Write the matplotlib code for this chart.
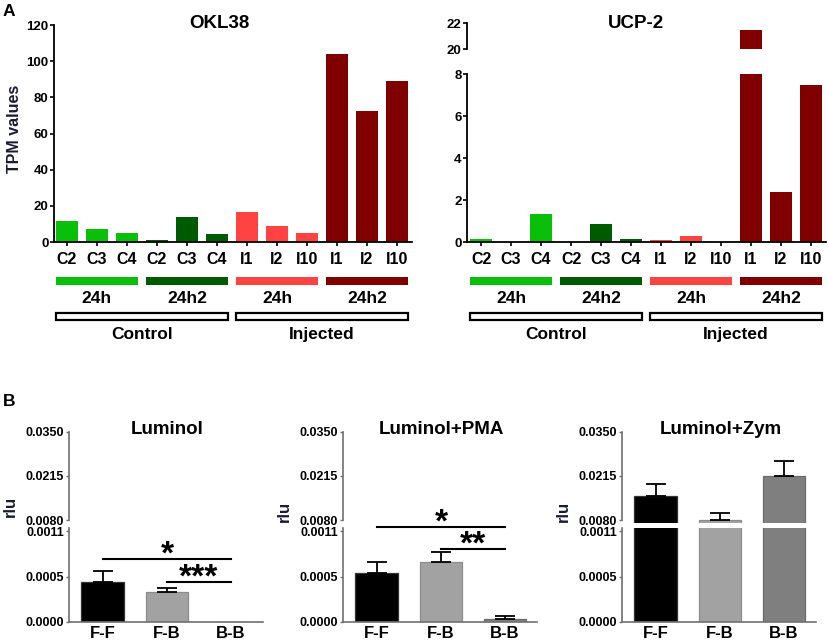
import numpy as np
import matplotlib
matplotlib.use('Agg')
import matplotlib.pyplot as plt
from matplotlib.patches import Rectangle

plt.rcParams['font.family'] = ['Liberation Sans', 'DejaVu Sans']
plt.rcParams['font.weight'] = 'bold'

# ---------- Panel A: TPM values ----------
samples = ['C2', 'C3', 'C4', 'C2', 'C3', 'C4', 'I1', 'I2', 'I10', 'I1', 'I2', 'I10']
okl38 = [11.8, 7.0, 5.0, 1.1, 14.0, 4.5, 16.6, 8.6, 4.9, 103.8, 72.4, 89.0]
ucp2 = [0.12, 0.0, 1.32, 0.0, 0.87, 0.12, 0.1, 0.28, 0.0, 21.45, 2.4, 7.48]
time_groups = ['24h', '24h2', '24h', '24h2']
group_colors = ['#0abf0a', '#005a00', '#ff4242', '#800000']
group_size = 3
conditions = ['Control', 'Injected']

# ---------- Panel B: rlu ----------
pairs = ['F-F', 'F-B', 'B-B']
pair_colors = ['#000000', '#a2a2a2', '#7f7f7f']
pair_edges = ['#333333', '#8c8c8c', '#6a6a6a']
luminol = [0.000484, 0.000359, 0.0]
luminol_err = [0.000128, 0.000048, 0.0]
pma = [0.000595, 0.000721, 0.000037]
pma_err = [0.000134, 0.000126, 0.000037]
zym = [0.01536, 0.0081, 0.0214]
zym_err = [0.00382, 0.00232, 0.00453]
upper_ticks = [0.008, 0.0215, 0.035]
upper_labels = ['0.0080', '0.0215', '0.0350']
lower_ticks = [0, 0.00055, 0.0011]
lower_labels = ['0.0000', '0.0005', '0.0011']

W, H = 829, 641
fig = plt.figure(figsize=(W / 100, H / 100), dpi=100)


def add_ax(left, top, right, bottom):
    # axes placed in pixel units of the 829x641 canvas
    return fig.add_axes([left / W, 1 - bottom / H, (right - left) / W, (bottom - top) / H])


def ftext(x, y, s, **kw):
    return fig.text(x / W, 1 - y / H, s, ha='center', va='center', **kw)


x = np.arange(len(samples))
bar_colors = np.repeat(group_colors, group_size)


def style_a(ax, xlim):
    ax.set_xlim(xlim)
    ax.spines['top'].set_visible(False)
    ax.spines['right'].set_visible(False)
    ax.spines['left'].set_linewidth(1.3)
    ax.spines['bottom'].set_linewidth(1.3)
    ax.tick_params(axis='y', length=3, width=1.2, pad=1, labelsize=9.5)
    ax.tick_params(axis='x', length=3, width=1.2, pad=4, labelsize=11.5)


def group_annot(ax, xlim):
    ax.set_xlim(xlim)
    ax.set_ylim(1, 0)
    ax.axis('off')
    for g in range(len(time_groups)):
        x0 = g * group_size - 0.37
        x1 = (g + 1) * group_size - 1 + 0.37
        ax.add_patch(Rectangle((x0, 0.32), x1 - x0, 0.08, color=group_colors[g], lw=0))
        ax.text((x0 + x1) / 2, 0.535, time_groups[g], ha='center', va='center', fontsize=12.5)
    per = group_size * 2
    for c in range(len(conditions)):
        x0 = c * per - 0.37
        x1 = (c + 1) * per - 1 + 0.37
        ax.add_patch(Rectangle((x0, 0.68), x1 - x0, 0.07, facecolor='white',
                               edgecolor='black', lw=1.6))
        ax.text((x0 + x1) / 2, 0.895, conditions[c], ha='center', va='center', fontsize=12.5)


# OKL38
xlim_l = (-0.43, 11.5)
ax1 = add_ax(54, 25, 412, 242)
ax1.bar(x, okl38, width=0.73, color=bar_colors, lw=0)
ax1.set_ylim(0, 120)
ax1.set_yticks([0, 20, 40, 60, 80, 100, 120])
ax1.set_xticks(x, samples)
style_a(ax1, xlim_l)
group_annot(add_ax(54, 245, 412, 345), xlim_l)
ftext(219, 24, 'OKL38', fontsize=13.5)
ftext(15, 129, 'TPM values', fontsize=11.5, rotation=90, color='#1a1a33')

# UCP-2 with broken axis
xlim_r = (-0.47, 11.5)
ax2 = add_ax(467, 74, 826, 242)
ax2.bar(x, ucp2, width=0.73, color=bar_colors, lw=0)
ax2.set_ylim(0, 8)
ax2.set_yticks([0, 2, 4, 6, 8])
ax2.set_xticks(x, samples)
style_a(ax2, xlim_r)
ax2u = add_ax(467, 23, 826, 49)
ax2u.bar(x, ucp2, width=0.73, color=bar_colors, lw=0)
ax2u.set_ylim(20, 22)
ax2u.set_yticks([20, 22])
style_a(ax2u, xlim_r)
ax2u.spines['bottom'].set_visible(False)
ax2u.set_xticks([])
group_annot(add_ax(467, 245, 826, 345), xlim_r)
ftext(636, 24, 'UCP-2', fontsize=13.5)

ftext(9, 11, 'A', fontsize=12.5)
ftext(9, 401, 'B', fontsize=12.5)

# ---------- Panel B ----------
xb = np.arange(len(pairs))
spine_c = '#707070'


def panel_b(left, means, errs, title, sigs, ylab_xy):
    right = left + 194
    up = add_ax(left, 431.5, right, 522.8)
    lo = add_ax(left, 527.7, right, 622)
    for ax in (up, lo):
        ax.bar(xb, means, width=0.67, color=pair_colors, edgecolor=pair_edges, lw=0.9)
        for i in range(len(means)):
            if errs[i] > 0:
                ax.errorbar(xb[i], means[i], yerr=[[0], [errs[i]]], fmt='none',
                            ecolor='black', elinewidth=1.3, capsize=7.5, capthick=1.3)
        ax.set_xlim(-0.53, 2.5)
        ax.spines['top'].set_visible(False)
        ax.spines['right'].set_visible(False)
        for s in ('left', 'bottom'):
            ax.spines[s].set_color(spine_c)
            ax.spines[s].set_linewidth(1.2)
        ax.tick_params(axis='y', length=2.5, width=1.0, color=spine_c, pad=1, labelsize=9)
    up.set_ylim(0.0073, 0.035)
    up.spines['left'].set_bounds(0.008, 0.035)
    up.spines['bottom'].set_visible(False)
    up.set_xticks([])
    up.set_yticks(upper_ticks, upper_labels)
    lo.set_ylim(0, 0.00114)
    lo.set_yticks(lower_ticks, lower_labels)
    lo.set_xticks(xb, pairs)
    lo.tick_params(axis='x', length=0, pad=3, labelsize=12)
    for i, j, y, s in sigs:
        lo.plot([i, j], [y, y], color='black', lw=1.5, clip_on=False)
        lo.annotate(s, xy=((i + j) / 2, y), xytext=(0, -3.5), textcoords='offset points',
                    ha='center', va='baseline', fontsize=24, annotation_clip=False)
    ftext((left + right) / 2 + 1.5, 429, title, fontsize=13.5)
    ftext(ylab_xy[0], ylab_xy[1], 'rlu', fontsize=12, rotation=90, color='#1a1a33')


panel_b(69, luminol, luminol_err, 'Luminol',
        [(0, 2, 0.000762, '*'), (1, 2, 0.000487, '***')], (10, 506))
panel_b(343, pma, pma_err, 'Luminol+PMA',
        [(0, 2, 0.00115, '*'), (1, 2, 0.000882, '**')], (284, 511))
panel_b(622, zym, zym_err, 'Luminol+Zym', [], (563, 511))

fig.savefig('out.png', dpi=100)
